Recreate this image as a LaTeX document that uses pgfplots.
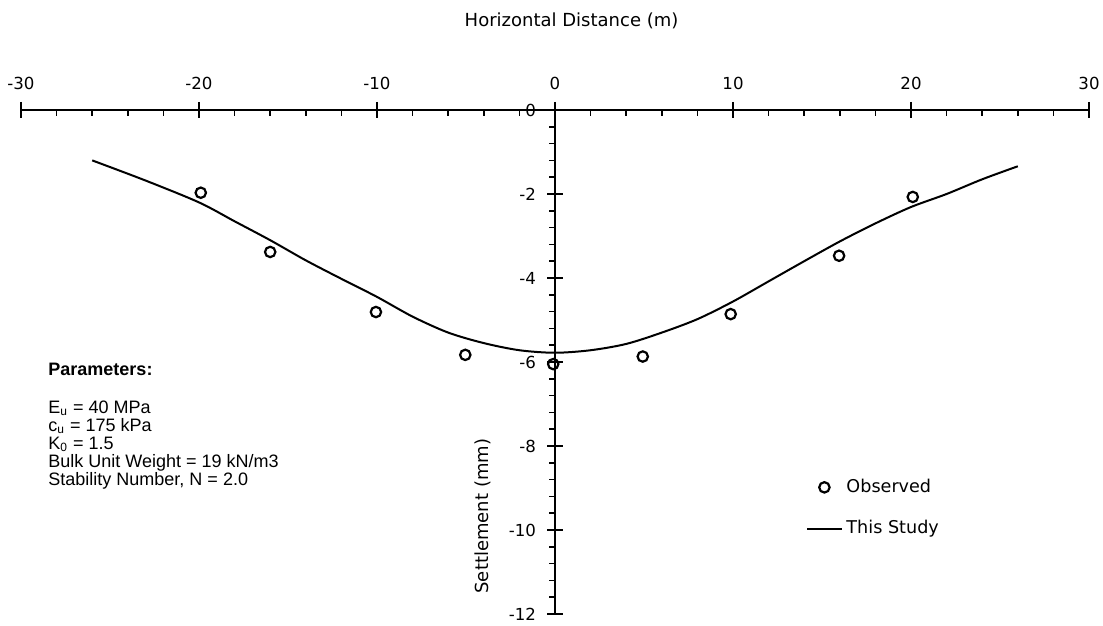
\documentclass[border=0pt]{standalone}
\usepackage{pgfplots}
\pgfplotsset{compat=1.18}
\usepackage{fontspec}
\setmainfont{DejaVu Sans}
\newfontfamily\arial{Liberation Sans}
\begin{document}
\begin{tikzpicture}
\begin{axis}[
  scale only axis, width=534pt, height=252pt,
  xmin=-30, xmax=30, ymin=-12, ymax=0,
  axis x line=top, axis y line=middle,
  axis line style={line width=1pt, -},
  hide obscured x ticks=false, hide obscured y ticks=false,
  xtick={-30,-20,...,30}, minor x tick num=4,
  ytick={-12,-10,...,0}, minor y tick num=4,
  tick align=center,
  major tick length=8pt, minor tick length=3pt,
  every tick/.style={black, line width=0.8pt},
  minor x tick style={yshift=-1.5pt},
  minor y tick style={xshift=-1.5pt},
  /pgf/number format/assume math mode=true,
  xticklabel style={font=\fontsize{8.3}{9}\selectfont, yshift=2.5pt},
  yticklabel style={font=\fontsize{8.3}{9}\selectfont, xshift=-2pt},
  clip=false,
  legend style={at={(axis cs:13.76,-8.59)}, anchor=north west, draw=none, fill=none,
    font=\fontsize{8.8}{10}\selectfont, row sep=8.5pt, cells={anchor=west}},
  legend cell align=left,
]
\coordinate (bl) at (rel axis cs:0,0);
\addplot[only marks, mark=o, mark size=2.6pt, mark options={line width=1.1pt}, black]
  coordinates {(-19.9,-1.97) (-16,-3.38) (-10.06,-4.81) (-5.04,-5.83) (-0.1,-6.05)
               (4.93,-5.87) (9.87,-4.86) (15.96,-3.47) (20.1,-2.07)};
\addlegendentry{Observed}
\addplot[black, line width=1pt, smooth, tension=0.5]
  coordinates {(-26,-1.2) (-23,-1.68) (-20,-2.2) (-18,-2.65) (-16,-3.1) (-14,-3.58)
               (-12,-4.02) (-10,-4.45) (-8,-4.92) (-6,-5.3) (-4,-5.55) (-2,-5.72)
               (0,-5.78) (2,-5.72) (4,-5.57) (6,-5.3) (8,-4.98) (10,-4.56)
               (12,-4.08) (14,-3.6) (16,-3.13) (18,-2.7) (20,-2.31) (22,-2.0)
               (24,-1.65) (26,-1.34)};
\addlegendentry{This Study}
\node[font=\fontsize{9}{11}\selectfont] at (axis cs:0.93,2.12) {Horizontal Distance (m)};
\node[font=\fontsize{9}{11}\selectfont, rotate=90] at (axis cs:-4.04,-9.67) {Settlement (mm)};
\begin{scope}[every node/.style={anchor=base west, inner sep=0pt, font=\arial\fontsize{9}{11}\selectfont}]
\node at (axis cs:-28.48,-6.32) {\bfseries Parameters:};
\node at (axis cs:-28.48,-7.217) {E\textsubscript{u} = 40 MPa};
\node at (axis cs:-28.48,-7.65) {c\textsubscript{u} = 175 kPa};
\node at (axis cs:-28.48,-8.08) {K\textsubscript{0} = 1.5};
\node at (axis cs:-28.48,-8.51) {Bulk Unit Weight = 19 kN/m3};
\node at (axis cs:-28.48,-8.95) {Stability Number, N = 2.0};
\end{scope}
\end{axis}
\pgfresetboundingbox
\path ([shift={(-10.5pt,-6pt)}]bl) rectangle ([shift={(541pt,307pt)}]bl);
\end{tikzpicture}
\end{document}
